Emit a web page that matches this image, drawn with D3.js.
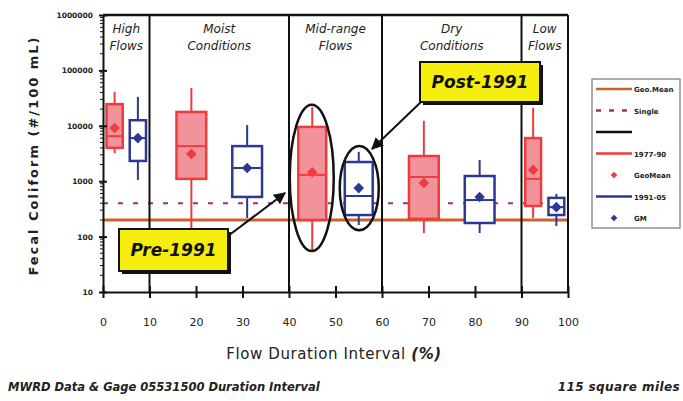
<!DOCTYPE html>
<html>
<head>
<meta charset="utf-8">
<script src="https://cdn.jsdelivr.net/npm/d3@7"></script>
<style>
	body { margin: 0; background: #fff; }
	svg { display: block; }
	.axis path, .axis line { stroke: #111; stroke-width: 2; }
	.axis text { fill: #222; font-family: "DejaVu Sans", sans-serif; font-weight: bold; }
</style>
</head>
<body>
<div id="chartDiv"></div>
<script>
// values (fecal coliform, #/100 mL)
var zoneBreaks = [10, 40, 60, 90];
var zoneNames = [["High", "Flows"], ["Moist", "Conditions"], ["Mid-range", "Flows"], ["Dry", "Conditions"], ["Low", "Flows"]];
var zoneCenters = [5, 25, 50, 75, 95];
var xTicks = [0, 10, 20, 30, 40, 50, 60, 70, 80, 90, 100];
var yTicks = [10, 100, 1000, 10000, 100000, 1000000];

var prePos    = [2.5, 19, 45, 69, 92.5];
var preLow    = [3200, 110, 57, 116, 217];
var preQ1     = [4000, 1100, 200, 209, 357];
var preMedian = [6500, 4300, 1300, 1190, 1100];
var preQ3     = [24600, 17800, 9550, 2850, 6000];
var preHigh   = [40700, 48000, 21700, 12300, 21000];
var preMean   = [9100, 3100, 1450, 930, 1600];
var preWidth  = [3.5, 6.4, 6, 6.4, 3.4];

var postPos    = [7.5, 31, 55, 81, 97.5];
var postLow    = [1050, 217, 162, 116, 155];
var postQ1     = [2320, 520, 245, 176, 245];
var postMedian = [6000, 1730, 540, 457, 340];
var postQ3     = [12600, 4300, 2220, 1240, 500];
var postHigh   = [33200, 10300, 3390, 2410, 590];
var postMean   = [6000, 1730, 750, 520, 340];
var postWidth  = [3.5, 6.4, 6, 6.4, 3.4];

var geoMeanStd = 200;
var singleStd = 400;

;(function() {

	var width = 683;
	var height = 401;
	var plot = { left: 103, right: 568, top: 15, bottom: 292 };

	var red = "#ee3b3f";
	var redFill = "#f2929a";
	var blue = "#2c3893";
	var orange = "#c9622c";
	var purple = "#a0306e";
	var fontFam = "'DejaVu Sans', sans-serif";

	var chart;
	var diamond = d3.symbol().type(d3.symbolSquare).size(56);

	init();

	function init() {
		chart = d3.select("#chartDiv").append("svg")
			.attr("width", width)
			.attr("height", height);

		chart.xScale = d3.scaleLinear().domain([0, 100]).range([plot.left, plot.right]);
		chart.yScale = d3.scaleLog().domain([10, 1000000]).range([plot.bottom, plot.top]);

		drawStandards();
		drawBoxes(prePos, preLow, preQ1, preMedian, preQ3, preHigh, preMean, preWidth, red, redFill);
		drawBoxes(postPos, postLow, postQ1, postMedian, postQ3, postHigh, postMean, postWidth, blue, "#fff");
		drawFrame();
		createAxes();
		drawAnnotations();
		drawLegend();
	}

	function drawStandards() {
		chart.append("line")
			.attr("x1", chart.xScale(0)).attr("x2", chart.xScale(100))
			.attr("y1", chart.yScale(geoMeanStd)).attr("y2", chart.yScale(geoMeanStd))
			.attr("stroke", orange).attr("stroke-width", 3);

		chart.append("line")
			.attr("x1", chart.xScale(0)).attr("x2", chart.xScale(100))
			.attr("y1", chart.yScale(singleStd)).attr("y2", chart.yScale(singleStd))
			.attr("stroke", purple).attr("stroke-width", 2)
			.attr("stroke-dasharray", "5,10");
	}

	function drawBoxes(pos, lo, q1, med, q3, hi, mean, w, stroke, fill) {
		var x = chart.xScale, y = chart.yScale;
		var g = chart.append("g");
		var idx = d3.range(pos.length);

		g.selectAll(".whisker").data(idx).enter().append("line")
			.attr("x1", function(i) { return x(pos[i]); })
			.attr("x2", function(i) { return x(pos[i]); })
			.attr("y1", function(i) { return y(hi[i]); })
			.attr("y2", function(i) { return y(lo[i]); })
			.attr("stroke", stroke).attr("stroke-width", 2);

		g.selectAll(".box").data(idx).enter().append("rect")
			.attr("x", function(i) { return x(pos[i] - w[i] / 2); })
			.attr("width", function(i) { return x(w[i]) - x(0); })
			.attr("y", function(i) { return y(q3[i]); })
			.attr("height", function(i) { return y(q1[i]) - y(q3[i]); })
			.attr("fill", fill)
			.attr("stroke", stroke).attr("stroke-width", 2.5);

		g.selectAll(".median").data(idx).enter().append("line")
			.attr("x1", function(i) { return x(pos[i] - w[i] / 2); })
			.attr("x2", function(i) { return x(pos[i] + w[i] / 2); })
			.attr("y1", function(i) { return y(med[i]); })
			.attr("y2", function(i) { return y(med[i]); })
			.attr("stroke", stroke).attr("stroke-width", 2);

		g.selectAll(".mean").data(idx).enter().append("path")
			.attr("d", diamond)
			.attr("transform", function(i) { return "translate(" + x(pos[i]) + "," + y(mean[i]) + ") rotate(45)"; })
			.attr("fill", stroke);
	}

	function drawFrame() {
		var x = chart.xScale;
		// zone separators and right / top borders
		chart.selectAll(".zone").data(zoneBreaks.concat([100])).enter().append("line")
			.attr("x1", function(d) { return x(d); }).attr("x2", function(d) { return x(d); })
			.attr("y1", plot.top).attr("y2", plot.bottom)
			.attr("stroke", "#111").attr("stroke-width", 2);

		chart.append("line")
			.attr("x1", plot.left).attr("x2", plot.right)
			.attr("y1", plot.top).attr("y2", plot.top)
			.attr("stroke", "#111").attr("stroke-width", 2.5);

		// zone headers
		chart.selectAll(".zoneLabel").data(zoneNames).enter().append("text")
			.attr("x", function(d, i) { return x(zoneCenters[i]); })
			.attr("y", 33)
			.attr("text-anchor", "middle")
			.style("font-family", fontFam)
			.style("font-style", "italic")
			.style("font-size", "12px")
			.style("fill", "#222")
			.each(function(d) {
				d3.select(this).append("tspan").attr("x", d3.select(this).attr("x")).text(d[0]);
				d3.select(this).append("tspan").attr("x", d3.select(this).attr("x")).attr("dy", 17).text(d[1]);
			});
	}

	function createAxes() {
		var x = chart.xScale, y = chart.yScale;

		// y axis
		var yAxis = d3.axisLeft(y)
			.tickValues(yTicks)
			.tickFormat(d3.format("d"))
			.tickSizeInner(4)
			.tickSizeOuter(0)
			.tickPadding(6);

		var yg = chart.append("g")
			.attr("class", "axis")
			.attr("transform", "translate(" + plot.left + ",0)")
			.call(yAxis);
		yg.selectAll("text").style("font-size", "7.5px");
		yg.selectAll(".tick").append("line").attr("x2", 4);

		// minor log ticks
		var minors = y.ticks().filter(function(d) { return yTicks.indexOf(d) < 0; });
		chart.selectAll(".minor").data(minors).enter().append("line")
			.attr("x1", plot.left - 3).attr("x2", plot.left)
			.attr("y1", function(d) { return y(d); }).attr("y2", function(d) { return y(d); })
			.attr("stroke", "#111").attr("stroke-width", 1);

		// x axis
		var xAxis = d3.axisBottom(x)
			.tickValues(xTicks)
			.tickSizeInner(6)
			.tickSizeOuter(0)
			.tickPadding(20);

		var xg = chart.append("g")
			.attr("class", "axis")
			.attr("transform", "translate(0," + plot.bottom + ")")
			.call(xAxis);
		xg.selectAll("text").style("font-size", "11px").style("font-weight", "normal");
		xg.selectAll(".tick line").attr("y1", -6);

		// axis headers
		chart.append("text")
			.attr("text-anchor", "middle")
			.attr("transform", "translate(38," + ((plot.top + plot.bottom) / 2 + 2) + ") rotate(-90)")
			.style("font-family", fontFam)
			.style("font-weight", "bold")
			.style("font-size", "13px")
			.style("letter-spacing", "2px")
			.style("fill", "#222")
			.text("Fecal Coliform  (#/100 mL)");

		var xt = chart.append("text")
			.attr("x", 334).attr("y", 359)
			.attr("text-anchor", "middle")
			.style("font-family", fontFam)
			.style("font-size", "15px")
			.style("letter-spacing", "0.6px")
			.style("fill", "#222");
		xt.append("tspan").text("Flow Duration Interval ");
		xt.append("tspan").style("font-style", "italic").style("font-weight", "bold").text("(%)");

		chart.append("text")
			.attr("x", 8).attr("y", 391)
			.style("font-family", fontFam)
			.style("font-style", "italic")
			.style("font-weight", "bold")
			.style("font-size", "11.5px")
			.style("fill", "#222")
			.text("MWRD Data & Gage 05531500 Duration Interval");

		chart.append("text")
			.attr("x", 680).attr("y", 391)
			.attr("text-anchor", "end")
			.style("font-family", fontFam)
			.style("font-style", "italic")
			.style("font-weight", "bold")
			.style("font-size", "12px")
			.style("letter-spacing", "0.4px")
			.style("fill", "#222")
			.text("115 square miles");
	}

	function drawAnnotations() {
		var x = chart.xScale, y = chart.yScale;

		chart.append("defs").append("marker")
			.attr("id", "arrow")
			.attr("viewBox", "0 0 10 10")
			.attr("refX", 9).attr("refY", 5)
			.attr("markerWidth", 6).attr("markerHeight", 6)
			.attr("orient", "auto")
			.append("path").attr("d", "M0,0L10,5L0,10z").attr("fill", "#111");

		// ellipses round the mid-range boxes
		chart.append("ellipse")
			.attr("cx", x(prePos[2]) - 0.5)
			.attr("cy", (y(24000) + y(55)) / 2)
			.attr("rx", 22).attr("ry", (y(55) - y(24000)) / 2)
			.attr("fill", "none").attr("stroke", "#111").attr("stroke-width", 2.5);

		chart.append("ellipse")
			.attr("cx", x(postPos[2]) + 0.5)
			.attr("cy", (y(4300) + y(130)) / 2)
			.attr("rx", 19.5).attr("ry", (y(130) - y(4300)) / 2)
			.attr("fill", "none").attr("stroke", "#111").attr("stroke-width", 2.5);

		// callout arrows
		chart.append("line")
			.attr("x1", 228).attr("y1", 236).attr("x2", 285).attr("y2", 193)
			.attr("stroke", "#111").attr("stroke-width", 2).attr("marker-end", "url(#arrow)");
		chart.append("line")
			.attr("x1", 422).attr("y1", 101).attr("x2", 372).attr("y2", 149)
			.attr("stroke", "#111").attr("stroke-width", 2).attr("marker-end", "url(#arrow)");

		callout(119, 229, 109, 42, "Pre-1991");
		callout(420, 62, 120, 40, "Post-1991");
	}

	function callout(bx, by, bw, bh, label) {
		chart.append("rect")
			.attr("x", bx + 3).attr("y", by + 3).attr("width", bw).attr("height", bh)
			.attr("fill", "#111");
		chart.append("rect")
			.attr("x", bx).attr("y", by).attr("width", bw).attr("height", bh)
			.attr("fill", "#f5ee0c").attr("stroke", "#111").attr("stroke-width", 2);
		chart.append("text")
			.attr("x", bx + bw / 2).attr("y", by + bh / 2 + 6)
			.attr("text-anchor", "middle")
			.style("font-family", fontFam)
			.style("font-style", "italic")
			.style("font-weight", "bold")
			.style("font-size", "17px")
			.style("fill", "#111")
			.text(label);
	}

	function drawLegend() {
		var lx = 592, ly = 79;
		var items = [
			{ type: "line", color: orange, dash: null, label: "Geo.Mean" },
			{ type: "line", color: purple, dash: "5,8", label: "Single" },
			{ type: "line", color: "#111", dash: null, label: "" },
			{ type: "line", color: red, dash: null, label: "1977-90" },
			{ type: "dot", color: red, label: "GeoMean" },
			{ type: "line", color: blue, dash: null, label: "1991-05" },
			{ type: "dot", color: blue, label: "GM" }
		];

		var lg = chart.append("g").attr("transform", "translate(" + lx + "," + ly + ")");
		lg.append("rect")
			.attr("width", 88).attr("height", 149)
			.attr("fill", "#fff").attr("stroke", "#777").attr("stroke-width", 1.2);

		var rows = lg.selectAll(".row").data(items).enter().append("g")
			.attr("transform", function(d, i) { return "translate(0," + (10 + i * 21.5) + ")"; });

		rows.filter(function(d) { return d.type == "line"; }).append("line")
			.attr("x1", 4).attr("x2", 40)
			.attr("stroke", function(d) { return d.color; })
			.attr("stroke-width", 2.5)
			.attr("stroke-dasharray", function(d) { return d.dash; });

		rows.filter(function(d) { return d.type == "dot"; }).append("path")
			.attr("d", d3.symbol().type(d3.symbolSquare).size(22))
			.attr("transform", "translate(22,0) rotate(45)")
			.attr("fill", function(d) { return d.color; });

		rows.append("text")
			.attr("x", 42).attr("y", 3)
			.style("font-family", fontFam)
			.style("font-weight", "bold")
			.style("font-size", "7px")
			.style("fill", "#222")
			.text(function(d) { return d.label; });
	}

})();
</script>
</body>
</html>
